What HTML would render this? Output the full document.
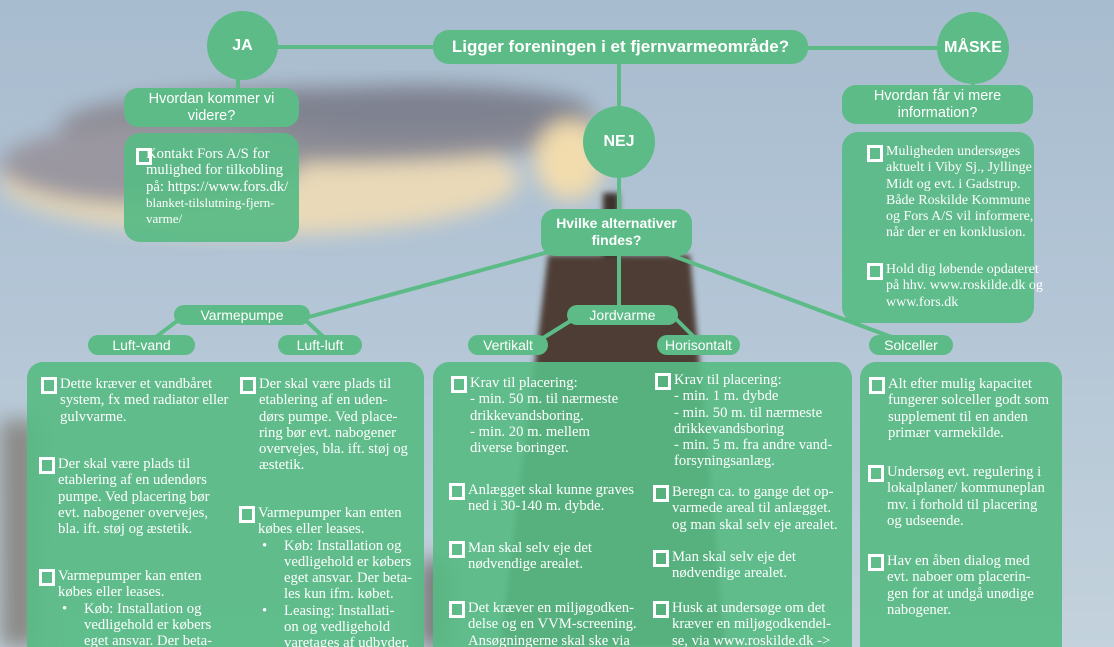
<!DOCTYPE html>
<html style="height:647px;overflow:hidden"><head><meta charset="utf-8"><style>
html,body{margin:0;padding:0}
body{width:1114px;height:647px;overflow:hidden;position:relative;font-family:"Liberation Sans",sans-serif;
background:linear-gradient(180deg,#a8bccf 0%,#b4c6d6 50%,#c3d2dc 100%);}
.abs{position:absolute}
.pill{position:absolute;background:#5cbb86;color:#fff;text-align:center;border-radius:12px;font-size:14px;line-height:20px}
.circ{position:absolute;background:#5cbb86;color:#fff;border-radius:50%;text-align:center;font-weight:bold;font-size:16px}
.box{position:absolute;background:rgba(88,187,132,0.92);border-radius:16px;color:#fff}
.it{position:absolute;font-family:"Liberation Serif",serif;font-size:14.7px;line-height:16.3px;color:#fff;white-space:nowrap}
.cb{position:absolute;width:10px;height:11px;border:3px solid #fff;left:-19px;top:1px}
.li{position:relative;padding-left:26px}
.li:before{content:"•";position:absolute;left:4px}
</style></head><body>
<svg class="abs" style="left:0;top:0" width="1114" height="647">
<defs>
<filter id="b"><feGaussianBlur stdDeviation="10"/></filter>
<filter id="b2"><feGaussianBlur stdDeviation="3"/></filter>
</defs>
<g filter="url(#b)">
<ellipse cx="260" cy="180" rx="260" ry="55" fill="#e9d9b8"/>
<ellipse cx="330" cy="125" rx="270" ry="38" fill="#8c8c95"/>
<ellipse cx="150" cy="165" rx="150" ry="40" fill="#9a97a0"/>
<ellipse cx="420" cy="110" rx="170" ry="25" fill="#7f8290"/>
<ellipse cx="570" cy="160" rx="35" ry="40" fill="#f2dcae"/>
</g>
<g filter="url(#b2)">
<polygon points="548,255 690,255 725,647 500,647" fill="#4d3d36"/>
<rect x="603" y="193" width="16" height="64" fill="#3e302b"/>
</g>
<g filter="url(#b)"><rect x="0" y="420" width="40" height="227" fill="#8b8b88"/><rect x="420" y="560" width="30" height="87" fill="#777"/></g>
<g stroke="#5cbb86" stroke-width="4" fill="none">
<line x1="277" y1="47" x2="440" y2="47"/>
<line x1="800" y1="48" x2="940" y2="48"/>
<line x1="619" y1="60" x2="619" y2="310"/>
<line x1="238" y1="75" x2="238" y2="92"/>
<line x1="973" y1="80" x2="973" y2="90"/>
<line x1="563" y1="248" x2="305" y2="318"/>
<line x1="668" y1="254" x2="905" y2="342"/>
<line x1="185" y1="315" x2="148" y2="343"/>
<line x1="300" y1="315" x2="330" y2="343"/>
<line x1="580" y1="315" x2="535" y2="343"/>
<line x1="672" y1="315" x2="700" y2="343"/>
</g>
</svg>

<div class="circ" style="left:207px;top:11px;width:71px;height:69px;line-height:69px">JA</div>
<div class="circ" style="left:937px;top:12px;width:72px;height:72px;line-height:72px">MÅSKE</div>
<div class="circ" style="left:583px;top:106px;width:72px;height:72px;line-height:72px">NEJ</div>
<div class="pill" style="left:433px;top:30px;width:375px;height:34px;line-height:34px;font-size:17px;font-weight:bold;border-radius:16px">Ligger foreningen i et fjernvarmeområde?</div>

<div class="pill" style="left:124px;top:88px;width:175px;height:39px;line-height:17px;padding-top:3px;box-sizing:border-box;font-size:14.5px;border-radius:14px">Hvordan kommer vi<br>videre?</div>
<div class="box" style="left:124px;top:133px;width:175px;height:109px"></div>
<div class="it" style="left:146px;top:146px">Kontakt Fors A/S for<br>mulighed for tilkobling<br>på: https://www.fors.dk/<br><span style="font-size:13px">blanket-tilslutning-fjern-<br>varme/</span><div class="cb" style="left:-10px;top:2px"></div></div>

<div class="pill" style="left:842px;top:85px;width:191px;height:39px;line-height:17px;padding-top:3px;box-sizing:border-box;font-size:14.5px;border-radius:14px">Hvordan får vi mere<br>information?</div>
<div class="box" style="left:842px;top:132px;width:192px;height:191px"></div>
<div class="it" style="left:886px;top:144px;font-size:14px">Muligheden undersøges<br>aktuelt i Viby Sj., Jyllinge<br>Midt og evt. i Gadstrup.<br>Både Roskilde Kommune<br>og Fors A/S vil informere,<br>når der er en konklusion.<div class="cb"></div></div>
<div class="it" style="left:886px;top:262px;font-size:14px">Hold dig løbende opdateret<br>på hhv. www.roskilde.dk og<br>www.fors.dk<div class="cb"></div></div>

<div class="pill" style="left:541px;top:209px;width:151px;height:47px;line-height:17px;padding-top:6px;box-sizing:border-box;font-weight:bold;font-size:14px;border-radius:14px">Hvilke alternativer<br>findes?</div>

<div class="pill" style="left:174px;top:305px;width:136px;height:20px">Varmepumpe</div>
<div class="pill" style="left:88px;top:335px;width:107px;height:20px">Luft-vand</div>
<div class="pill" style="left:278px;top:335px;width:84px;height:20px">Luft-luft</div>
<div class="pill" style="left:567px;top:305px;width:111px;height:20px">Jordvarme</div>
<div class="pill" style="left:468px;top:335px;width:80px;height:20px">Vertikalt</div>
<div class="pill" style="left:657px;top:335px;width:83px;height:20px">Horisontalt</div>
<div class="pill" style="left:869px;top:335px;width:84px;height:20px">Solceller</div>

<div class="box" style="left:27px;top:362px;width:397px;height:300px"></div>
<div class="box" style="left:433px;top:362px;width:419px;height:300px"></div>
<div class="box" style="left:860px;top:362px;width:202px;height:300px"></div>

<div class="it" style="left:60px;top:376px">Dette kræver et vandbåret<br>system, fx med radiator eller<br>gulvvarme.<div class="cb"></div></div>
<div class="it" style="left:58px;top:456px">Der skal være plads til<br>etablering af en udendørs<br>pumpe. Ved placering bør<br>evt. nabogener overvejes,<br>bla. ift. støj og æstetik.<div class="cb"></div></div>
<div class="it" style="left:58px;top:568px">Varmepumper kan enten<br>købes eller leases.<div class="li">Køb: Installation og<br>vedligehold er købers<br>eget ansvar. Der beta-</div><div class="cb"></div></div>

<div class="it" style="left:259px;top:376px">Der skal være plads til<br>etablering af en uden-<br>dørs pumpe. Ved place-<br>ring bør evt. nabogener<br>overvejes, bla. ift. støj og<br>æstetik.<div class="cb"></div></div>
<div class="it" style="left:258px;top:505px">Varmepumper kan enten<br>købes eller leases.<div class="li">Køb: Installation og<br>vedligehold er købers<br>eget ansvar. Der beta-<br>les kun ifm. købet.</div><div class="li">Leasing: Installati-<br>on og vedligehold<br>varetages af udbyder.</div><div class="cb"></div></div>

<div class="it" style="left:470px;top:375px">Krav til placering:<br>- min. 50 m. til nærmeste<br>drikkevandsboring.<br>- min. 20 m. mellem<br>diverse boringer.<div class="cb"></div></div>
<div class="it" style="left:468px;top:482px">Anlægget skal kunne graves<br>ned i 30-140 m. dybde.<div class="cb"></div></div>
<div class="it" style="left:468px;top:540px">Man skal selv eje det<br>nødvendige arealet.<div class="cb"></div></div>
<div class="it" style="left:468px;top:600px">Det kræver en miljøgodken-<br>delse og en VVM-screening.<br>Ansøgningerne skal ske via<div class="cb"></div></div>

<div class="it" style="left:674px;top:372px">Krav til placering:<br>- min. 1 m. dybde<br>- min. 50 m. til nærmeste<br>drikkevandsboring<br>- min. 5 m. fra andre vand-<br>forsyningsanlæg.<div class="cb"></div></div>
<div class="it" style="left:672px;top:484px">Beregn ca. to gange det op-<br>varmede areal til anlægget.<br>og man skal selv eje arealet.<div class="cb"></div></div>
<div class="it" style="left:672px;top:549px">Man skal selv eje det<br>nødvendige arealet.<div class="cb"></div></div>
<div class="it" style="left:672px;top:600px">Husk at undersøge om det<br>kræver en miljøgodkendel-<br>se, via www.roskilde.dk -&gt;<div class="cb"></div></div>

<div class="it" style="left:888px;top:376px">Alt efter mulig kapacitet<br>fungerer solceller godt som<br>supplement til en anden<br>primær varmekilde.<div class="cb"></div></div>
<div class="it" style="left:887px;top:464px">Undersøg evt. regulering i<br>lokalplaner/ kommuneplan<br>mv. i forhold til placering<br>og udseende.<div class="cb"></div></div>
<div class="it" style="left:887px;top:553px">Hav en åben dialog med<br>evt. naboer om placerin-<br>gen for at undgå unødige<br>nabogener.<div class="cb"></div></div>
</body></html>
